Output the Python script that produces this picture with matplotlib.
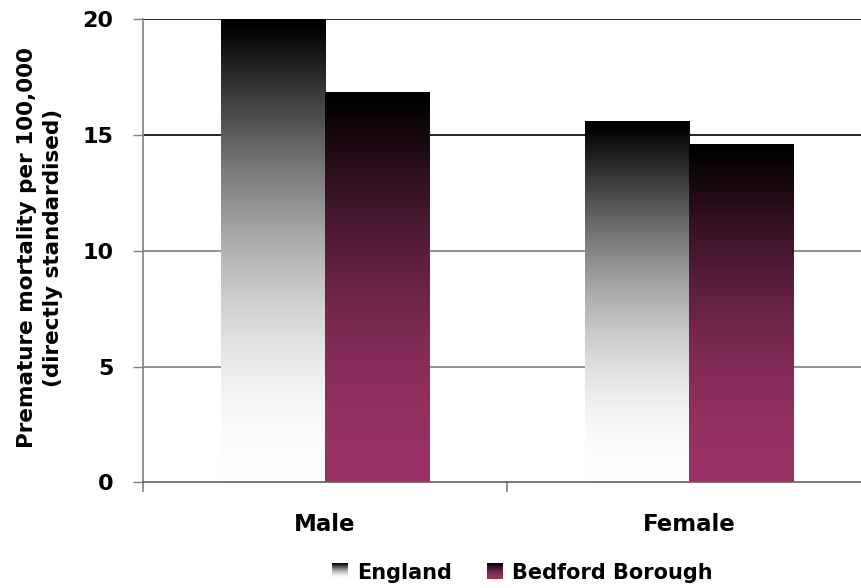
import numpy as np
import matplotlib
matplotlib.use("Agg")
import matplotlib.pyplot as plt
from matplotlib.colors import LinearSegmentedColormap, to_rgb

# Data
categories = ["Male", "Female"]
series_names = ["England", "Bedford Borough"]
england = [20.0, 15.6]
bedford = [16.85, 14.6]
y_ticks = [0, 5, 10, 15, 20]

plt.rcParams["font.family"] = ["DejaVu Sans"]
plt.rcParams["font.weight"] = "bold"

fig = plt.figure(figsize=(8.61, 5.88), dpi=100)
W, H = 861, 588
ax = fig.add_axes([142.7 / W, 1 - 482.3 / H, (860.7 - 142.7) / W, (482.3 - 19.5) / H])

# Gradient bars: dark at top, series colour at the base
base_colours = ["#ffffff", "#983264"]


def gradient_cmap(colour):
    rgb = np.array(to_rgb(colour))
    t = np.linspace(0, 1, 64)
    f = np.sin(np.pi / 2 * np.clip((t - 0.015) / 0.985, 0, 1))
    cols = [tuple(rgb * v) for v in f]
    return LinearSegmentedColormap.from_list("g", list(zip(t, cols)))


grad = np.linspace(0, 1, 256).reshape(-1, 1)
bar_w = 0.2864
x = np.arange(len(categories))
for s, (vals, col) in enumerate(zip([england, bedford], base_colours)):
    cmap = gradient_cmap(col)
    for i, v in enumerate(vals):
        x0 = x[i] - bar_w + s * bar_w
        ax.imshow(grad, cmap=cmap, aspect="auto", origin="upper",
                  extent=(x0, x0 + bar_w, 0, v), zorder=2, interpolation="bilinear")

# Horizontal gridlines
grid_colours = {5: "#808080", 10: "#808080", 15: "#000000", 20: "#000000"}
for yv in y_ticks[1:]:
    ax.axhline(yv, color=grid_colours[yv], lw=1.2, zorder=1)

for side in ["top", "right"]:
    ax.spines[side].set_visible(False)
ax.spines["left"].set_color("#808080")
ax.spines["bottom"].set_color("#606060")
ax.spines["left"].set_linewidth(1.2)
ax.spines["bottom"].set_linewidth(1.2)
ax.spines["bottom"].set_zorder(3)

ax.set_yticks(y_ticks)
ax.set_yticklabels([str(v) for v in y_ticks], fontsize=16, fontweight="bold")
ax.tick_params(axis="y", length=7.2, width=1, color="#808080", pad=14)

ax.set_xticks([-0.5, 0.5, 1.5])
ax.set_xticklabels(["", "", ""])
ax.set_xticks(x, minor=True)
ax.set_xticklabels(categories, minor=True, fontsize=16.5, fontweight="bold")
ax.tick_params(axis="x", which="major", length=7.2, width=1.2, color="#808080")
ax.tick_params(axis="x", which="minor", length=0, pad=22)

ax.set_xlim(-0.5, 1.471)
ax.set_ylim(0, 20)

# Two-line y-axis title
fig.text(40 / W, 1 - 248 / H, "Premature mortality per 100,000\n(directly standardised)",
         fontsize=15.5, fontweight="bold", linespacing=1.4, rotation=90,
         ha="center", va="center", multialignment="center")

# Legend with gradient swatches
legend_items = [(332, 357, "#ffffff"), (487, 512, "#983264")]
for (sx, tx, col), name in zip(legend_items, series_names):
    sw = fig.add_axes([sx / W, 1 - 579 / H, 16 / W, 16 / H])
    sw.imshow(grad, cmap=gradient_cmap(col), aspect="auto", extent=(0, 1, 0, 1))
    sw.axis("off")
    fig.text(tx / W, 1 - 579 / H, name, fontsize=15, fontweight="bold",
             ha="left", va="baseline")

fig.savefig("out.png", dpi=100)
